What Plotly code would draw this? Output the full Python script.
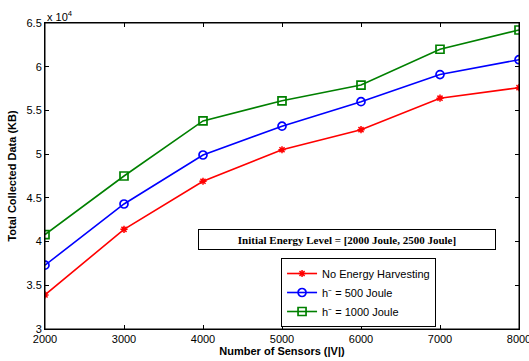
import plotly.graph_objects as go

sensors = [2000, 3000, 4000, 5000, 6000, 7000, 8000]
no_harvest = [33900, 41400, 46900, 50500, 52800, 56400, 57600]
h500 = [37300, 44300, 49900, 53200, 56000, 59100, 60800]
h1000 = [40800, 47500, 53800, 56100, 57900, 62000, 64200]
series_names = ["No Energy Harvesting", "h\u207b = 500 Joule", "h\u207b = 1000 Joule"]
ytick_vals = [30000, 35000, 40000, 45000, 50000, 55000, 60000, 65000]
ytick_text = ["3", "3.5", "4", "4.5", "5", "5.5", "6", "6.5"]
xtick_vals = [2000, 3000, 4000, 5000, 6000, 7000, 8000]

fig = go.Figure()
fig.add_trace(go.Scatter(x=sensors, y=no_harvest, name=series_names[0], mode="lines+markers",
                         line=dict(color="#ff0000", width=1.6),
                         marker=dict(symbol="asterisk-open", size=6, color="#ff0000",
                                     line=dict(color="#ff0000", width=1.5))))
fig.add_trace(go.Scatter(x=sensors, y=h500, name=series_names[1], mode="lines+markers",
                         line=dict(color="#0000ff", width=1.6),
                         marker=dict(symbol="circle-open", size=8, color="#0000ff",
                                     line=dict(color="#0000ff", width=1.7))))
fig.add_trace(go.Scatter(x=sensors, y=h1000, name=series_names[2], mode="lines+markers",
                         line=dict(color="#008000", width=1.6),
                         marker=dict(symbol="square-open", size=8, color="#008000",
                                     line=dict(color="#008000", width=1.7))))

fig.update_layout(
    width=529, height=361,
    margin=dict(l=45, r=10, t=23, b=32),
    paper_bgcolor="white", plot_bgcolor="white",
    font=dict(family="Liberation Sans, Arial", size=11, color="black"),
    showlegend=True,
    legend=dict(x=0.498, y=0.232, xanchor="left", yanchor="top",
                bgcolor="white", bordercolor="black", borderwidth=1,
                font=dict(size=11), tracegroupgap=0, itemwidth=30),
    xaxis=dict(range=[2000, 8000], tickvals=xtick_vals, showline=True, mirror="ticks",
               linecolor="black", linewidth=1, ticks="inside", ticklen=4, tickcolor="black",
               showgrid=False, zeroline=False, automargin=False, ticklabeloverflow="allow",
               title=dict(text="<b>Number of Sensors (|V|)</b>", standoff=0, font=dict(size=11))),
    yaxis=dict(range=[30000, 65000], tickvals=ytick_vals, ticktext=ytick_text, showline=True,
               mirror="ticks", linecolor="black", linewidth=1, ticks="inside", ticklen=4,
               tickcolor="black", showgrid=False, zeroline=False, automargin=False,
               ticklabeloverflow="allow",
               title=dict(text="<b>Total Collected Data (KB)</b>", standoff=7, font=dict(size=11))),
)

fig.add_shape(type="rect", xref="paper", yref="paper", x0=0, y0=0, x1=1, y1=1,
              line=dict(color="black", width=1), layer="above")

fig.add_annotation(xref="paper", yref="paper", x=0.0, y=1.0, xanchor="left", yanchor="bottom",
                   text="x 10<sup>4</sup>", showarrow=False, font=dict(size=11), yshift=-2)
fig.add_annotation(xref="paper", yref="paper", x=0.638, y=0.294, xanchor="center", yanchor="middle",
                   text="<b>Initial Energy Level = [2000 Joule, 2500 Joule]</b>", showarrow=False,
                   font=dict(family="Liberation Serif, Times New Roman", size=11),
                   bordercolor="black", borderwidth=1, bgcolor="white", width=294, height=17)

fig.write_html("out.html", config={"displayModeBar": False},
               post_script="document.body.style.margin='0';document.body.style.overflow='hidden';")
